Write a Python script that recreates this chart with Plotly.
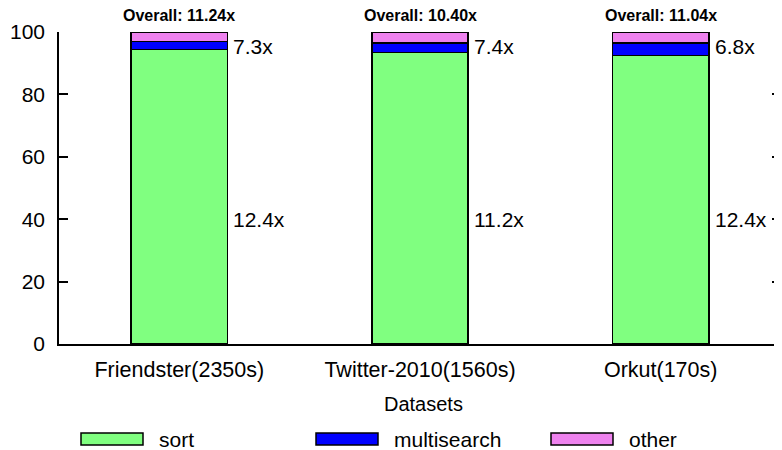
import plotly.graph_objects as go

datasets = ["Friendster(2350s)", "Twitter-2010(1560s)", "Orkut(170s)"]
sort_pct = [94.4, 93.5, 92.5]
multisearch_pct = [2.5, 3.0, 4.0]
other_pct = [3.1, 3.5, 3.5]
sort_speedup = ["12.4x", "11.2x", "12.4x"]
multisearch_speedup = ["7.3x", "7.4x", "6.8x"]
overall_speedup = ["11.24x", "10.40x", "11.04x"]

series = [
    ("sort", sort_pct, "#80ff80"),
    ("multisearch", multisearch_pct, "#0000ff"),
    ("other", other_pct, "#ee82ee"),
]

FONT = "Liberation Sans, Arial, sans-serif"
FS = 21
# the page body adds an 8px margin, so the figure is a bit smaller and shifted
OFF = 8
W, H = 782 - OFF, 450 - OFF
ML, MR, MT, MB = 59 - OFF, 1, 32 - OFF, 106
PW, PH = W - ML - MR, H - MT - MB


def px_x(x):
    # page pixel -> paper
    return (x - OFF - ML) / PW


def px_y(y):
    return (H - MB - (y - OFF)) / PH


fig = go.Figure()
for name, vals, color in series:
    fig.add_trace(go.Bar(
        x=list(range(len(datasets))), y=vals, name=name, width=0.4,
        marker=dict(color=color, line=dict(color="black", width=1.5)),
        showlegend=False,
    ))
# empty trace so the right-hand (mirror) tick axis is drawn
fig.add_trace(go.Scatter(x=[], y=[], yaxis="y2", showlegend=False, hoverinfo="skip"))

annotations = []
for i in range(len(datasets)):
    annotations.append(dict(x=i + 0.2, y=40, text=sort_speedup[i], xref="x", yref="y",
                            xanchor="left", yanchor="middle", xshift=4, showarrow=False,
                            font=dict(size=FS, color="black", family=FONT)))
    annotations.append(dict(x=i + 0.2, y=95.5, text=multisearch_speedup[i], xref="x", yref="y",
                            xanchor="left", yanchor="middle", xshift=4, showarrow=False,
                            font=dict(size=FS, color="black", family=FONT)))
    annotations.append(dict(x=i, y=100, text="<b>Overall: %s</b>" % overall_speedup[i],
                            xref="x", yref="y", xanchor="center", yanchor="bottom", yshift=6,
                            showarrow=False, font=dict(size=16, color="black", family=FONT)))

annotations.append(dict(x=px_x(424), y=px_y(404), text="Datasets", xref="paper", yref="paper",
                        xanchor="center", yanchor="middle", showarrow=False,
                        font=dict(size=20, color="black", family=FONT)))

# legend drawn by hand: wide swatches like the original
shapes = []
legend_x = [81, 316, 551]
for (name, vals, color), lx in zip(series, legend_x):
    shapes.append(dict(type="rect", xref="paper", yref="paper",
                       x0=px_x(lx), x1=px_x(lx + 62), y0=px_y(445), y1=px_y(433),
                       fillcolor=color, line=dict(color="black", width=1.5)))
    annotations.append(dict(x=px_x(lx + 76), y=px_y(439), text=name, xref="paper", yref="paper",
                            xanchor="left", yanchor="middle", showarrow=False,
                            font=dict(size=FS, color="black", family=FONT)))

fig.update_layout(
    barmode="stack",
    width=W, height=H,
    margin=dict(l=ML, r=MR, t=MT, b=MB),
    plot_bgcolor="white", paper_bgcolor="white",
    font=dict(family=FONT, size=FS, color="black"),
    annotations=annotations,
    shapes=shapes,
    xaxis=dict(range=[-0.5, 2.5], tickvals=list(range(len(datasets))), ticktext=datasets,
               showline=True, linecolor="black", linewidth=1.5, ticks="",
               tickfont=dict(size=21.5),
               showgrid=False, zeroline=False, ticklabelstandoff=5),
    yaxis=dict(range=[0, 100], dtick=20, showline=True, linecolor="black", linewidth=1.5,
               ticks="inside", ticklen=9, tickwidth=1.5, tickcolor="black",
               showgrid=False, zeroline=False, ticklabelstandoff=8),
    yaxis2=dict(range=[0, 100], dtick=20, overlaying="y", side="right", showline=False,
                ticks="inside", ticklen=9, tickwidth=1.5, tickcolor="black",
                showticklabels=False, showgrid=False, zeroline=False),
)

fig.write_html("out.html")
